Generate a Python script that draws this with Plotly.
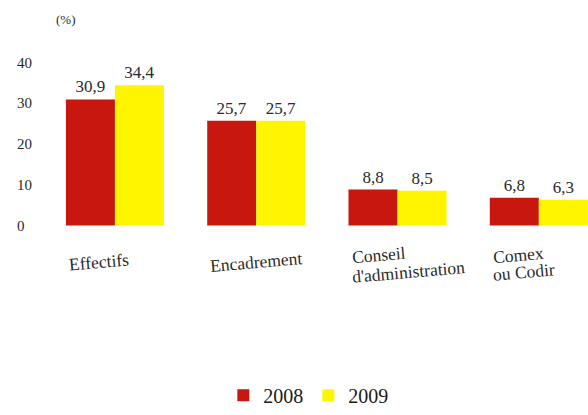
import plotly.graph_objects as go

categories = ["Effectifs", "Encadrement", "Conseil<br>d'administration", "Comex<br>ou Codir"]
values_2008 = [30.9, 25.7, 8.8, 6.8]
values_2009 = [34.4, 25.7, 8.5, 6.3]
tick_vals = [0, 10, 20, 30, 40]
tick_text = ["0\u2007", "10", "20", "30", "40"]

FONT = "Liberation Serif"
RED = "#C8170E"
YELLOW = "#FFF500"

def fmt(v):
    return f"{v:.1f}".replace(".", ",")

xs = list(range(len(categories)))

fig = go.Figure()
fig.add_trace(go.Bar(x=xs, y=values_2008, name="2008", marker=dict(color=RED, line=dict(width=0)),
                     text=[fmt(v) for v in values_2008], textposition="outside",
                     textfont=dict(family=FONT, size=17, color="#2a2a2a"), cliponaxis=False))
fig.add_trace(go.Bar(x=xs, y=values_2009, name="2009", marker=dict(color=YELLOW, line=dict(width=0)),
                     text=[fmt(v) for v in values_2009], textposition="outside",
                     textfont=dict(family=FONT, size=17, color="#2a2a2a"), cliponaxis=False))

for i, c in enumerate(categories):
    lines = c.split("<br>")
    y0 = -9.0 if len(lines) == 1 else -7.2
    for j, ln in enumerate(lines):
        fig.add_annotation(x=i - 0.345, y=y0 - j * 4.3, xref="x", yref="y", text=ln, showarrow=False,
                           xanchor="left", yanchor="middle", align="left", textangle=-5,
                           font=dict(family=FONT, size=17.5, color="#2a2a2a"))

fig.add_annotation(x=10/588, y=1-20/415, xref="paper", yref="paper", text="(%)", showarrow=False,
                   xanchor="left", yanchor="middle",
                   font=dict(family=FONT, size=13, color="#2a2a2a"))

fig.update_layout(
    width=588, height=415,
    margin=dict(l=45, r=0, t=0, b=0),
    paper_bgcolor="white", plot_bgcolor="white",
    font=dict(family=FONT),
    barmode="group", bargap=0.306, bargroupgap=0,
    xaxis=dict(range=[-0.495, 3.348], showticklabels=False, showgrid=False, zeroline=False,
               showline=False, ticks=""),
    yaxis=dict(range=[-44.24, 55.28], tickvals=tick_vals, ticktext=tick_text, showgrid=False,
               zeroline=False, showline=False, ticks="", ticklabelstandoff=12,
               tickfont=dict(family=FONT, size=15, color="#2a2a2a")),
    legend=dict(orientation="h", x=0.485, xanchor="center", y=1-404/415, yanchor="middle",
                font=dict(family=FONT, size=20, color="#1a1a1a"), itemwidth=30,
                bgcolor="rgba(0,0,0,0)"),
    showlegend=True,
)

fig.write_html("out.html")
